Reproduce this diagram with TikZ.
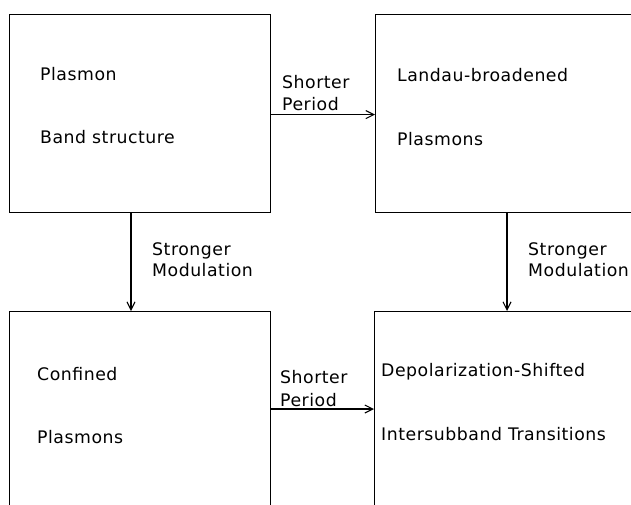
\documentclass[tikz,border=0pt]{standalone}
\usepackage{fontspec}
\setmainfont[LetterSpace=3]{DejaVu Sans}
\usetikzlibrary{arrows.meta}
\begin{document}
\begin{tikzpicture}[x=1pt,y=-1pt,
  box/.style={draw,line width=1.2pt,rectangle,inner sep=0pt,anchor=north west},
  lbl/.style={anchor=base west,inner sep=0pt,font=\fontsize{17.3}{20}\selectfont},
  arr/.style={line width=1.2pt,-{Straight Barb[length=8pt,width=8pt,line width=1.1pt]}}]
\useasboundingbox (0,0) rectangle (631,504);
\clip (0,0) rectangle (631,504);
% boxes
\node[box,minimum width=261pt,minimum height=198pt] (tl) at (9,14) {};
\node[box,minimum width=290pt,minimum height=198pt] (tr) at (375,14) {};
\node[box,minimum width=261pt,minimum height=230pt] (bl) at (9,311) {};
\node[box,minimum width=290pt,minimum height=230pt] (br) at (374,311) {};
% texts
\node[lbl] (t1) at (40,80) {Plasmon};
\node[lbl] (t2) at (40,143) {Band structure};
\node[lbl] (t3) at (397,81) {Landau-broadened};
\node[lbl] (t4) at (397,145) {Plasmons};
\node[lbl] (t5) at (37,380) {Confined};
\node[lbl] (t6) at (37,443) {Plasmons};
\node[lbl] (t7) at (381,376) {Depolarization-Shifted};
\node[lbl] (t8) at (381,440) {Intersubband Transitions};
% arrow labels
\node[lbl] (s1) at (282,88) {Shorter};
\node[lbl] (s2) at (282,110) {Period};
\node[lbl] (s3) at (280,383) {Shorter};
\node[lbl] (s4) at (280,406) {Period};
\node[lbl] (m1) at (152,255) {Stronger};
\node[lbl] (m2) at (152,276) {Modulation};
\node[lbl] (m3) at (528,255) {Stronger};
\node[lbl] (m4) at (528,276) {Modulation};
% connectors
\draw[arr] ([yshift=-1pt]tl.east) -- ([yshift=-1pt]tl.east -| tr.west);
\draw[arr] ([yshift=-98pt]bl.north east) -- ([yshift=-98pt]bl.north east -| br.west);
\draw[arr] ([xshift=122pt]tl.south west) -- ([xshift=122pt]bl.north west);
\draw[arr] ([xshift=132pt]tr.south west) -- ([xshift=132pt]tr.south west |- br.north);
\end{tikzpicture}
\end{document}
